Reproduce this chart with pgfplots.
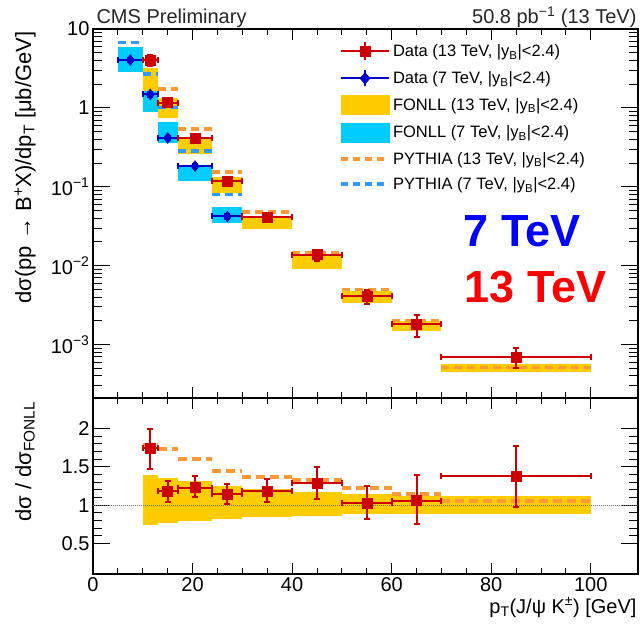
\documentclass[border=0pt]{standalone}
\usepackage{fontspec}
\setmainfont{Liberation Sans}
\usepackage{pgfplots}
\usepackage{pgfplotstable}
\pgfplotsset{compat=1.18}

\definecolor{datared}{RGB}{204,0,0}
\definecolor{datablue}{RGB}{0,0,204}
\definecolor{fonllyel}{RGB}{255,204,0}
\definecolor{fonllcyan}{RGB}{0,204,255}
\definecolor{pyorange}{RGB}{255,153,51}
\definecolor{pyblue}{RGB}{51,153,255}

% ---- top panel: cross sections ----
\pgfplotstableread{
x xe y ye
11.5 1.5 4.04 0.60
15 2 1.17 0.13
20.5 3.5 0.416 0.046
27 3 0.118 0.014
35 5 0.0412 0.0053
45 5 0.0138 0.0022
55 5 0.00408 0.00084
65 5 0.00182 0.00056
85 15 0.00070 0.00020
}\dataThirteen

\pgfplotstableread{
x xe y ye
7.5 2.5 4.04 0.25
11.5 1.5 1.48 0.09
15 2 0.416 0.025
20.5 3.5 0.183 0.011
27 3 0.042 0.003
}\dataSeven

\pgfplotstableread{
x0 x1 lo hi
10 13 1.64 3.22
13 17 0.755 1.34
17 24 0.258 0.428
24 30 0.083 0.133
30 40 0.029 0.0421
40 50 0.0091 0.0138
50 60 0.0034 0.00483
60 70 0.0015 0.0020
70 100 0.000443 0.000565
}\fonllThirteen

\pgfplotstableread{
x0 x1 lo hi
5 10 2.87 5.96
10 13 0.89 1.64
13 17 0.359 0.664
17 24 0.117 0.191
24 30 0.0346 0.0552
}\fonllSeven

\pgfplotstableread{
x y
10 4.13
13 1.73
17 0.536
24 0.154
30 0.0478
40 0.0144
50 0.00502
60 0.00201
70 0.00051
100 0.00051
}\pythiaThirteen

\pgfplotstableread{
x y
5 6.78
10 2.68
13 1.01
17 0.282
24 0.080
30 0.080
}\pythiaSeven

% ---- bottom panel: ratios to FONLL ----
\pgfplotstableread{
x xe y yp ym
11.5 1.5 1.746 0.254 0.276
15 2 1.18 0.13 0.14
20.5 3.5 1.23 0.15 0.13
27 3 1.145 0.135 0.135
35 5 1.18 0.16 0.14
45 5 1.285 0.215 0.205
55 5 1.03 0.22 0.205
65 5 1.06 0.34 0.31
85 15 1.38 0.39 0.40
}\ratioData

\pgfplotstableread{
x0 x1 lo hi
10 13 0.74 1.39
13 17 0.76 1.355
17 24 0.79 1.31
24 30 0.82 1.25
30 40 0.84 1.21
40 50 0.86 1.175
50 60 0.88 1.145
60 70 0.88 1.12
70 100 0.88 1.115
}\ratioFonll

\pgfplotstableread{
x y
10 1.79
13 1.74
17 1.605
24 1.45
30 1.37
40 1.33
50 1.23
60 1.145
70 1.06
100 1.06
}\ratioPythia

% one filled box per bin, from a table with columns x0 x1 lo hi
\newcommand\drawboxes[2]{%
  \pgfplotstablegetrowsof{#1}%
  \pgfmathtruncatemacro\nlast{\pgfplotsretval-1}%
  \pgfplotsforeachungrouped \i in {0,...,\nlast}{%
    \pgfplotstablegetelem{\i}{x0}\of{#1}\let\xa\pgfplotsretval
    \pgfplotstablegetelem{\i}{x1}\of{#1}\let\xb\pgfplotsretval
    \pgfplotstablegetelem{\i}{lo}\of{#1}\let\ylo\pgfplotsretval
    \pgfplotstablegetelem{\i}{hi}\of{#1}\let\yhi\pgfplotsretval
    \edef\temp{\noexpand\addplot[fill=#2, draw=none, forget plot] coordinates {(\xa,\ylo) (\xb,\ylo) (\xb,\yhi) (\xa,\yhi)};}%
    \temp
  }%
}

\pgfplotsset{
  cmsaxis/.style={
    scale only axis, width=545pt,
    xmin=0, xmax=109.5,
    xtick={0,20,...,100}, minor x tick num=3,
    tick align=inside,
    axis line style={line width=1.6pt},
    every tick/.style={black, line width=0.9pt},
    x tick style={/pgfplots/major tick length=11pt, /pgfplots/minor tick length=6pt},
    y tick style={/pgfplots/major tick length=17pt, /pgfplots/minor tick length=9pt},
    tick label style={font=\fontsize{20}{24}\selectfont},
    /pgf/number format/assume math mode=true,
  },
  dataplot/.style={
    only marks, forget plot,
    error bars/x dir=both, error bars/x explicit,
    error bars/y dir=both, error bars/y explicit,
    error bars/error bar style={line width=2pt, #1},
    error bars/error mark options={rotate=90, line width=2pt, mark size=3pt, #1},
  },
}

\begin{document}
\begin{tikzpicture}

% ================= TOP PANEL =================
\begin{axis}[cmsaxis,
  at={(93pt,236pt)}, anchor=south west,
  height=369pt,
  ymode=log, ymin=2.1e-4, ymax=10,
  xticklabels={},
  ytick={0.001,0.01,0.1,1,10},
  yticklabels={10\textsuperscript{−3},10\textsuperscript{−2},10\textsuperscript{−1},1,10},
  minor ytick={3e-4,4e-4,5e-4,6e-4,7e-4,8e-4,9e-4,
    2e-3,3e-3,4e-3,5e-3,6e-3,7e-3,8e-3,9e-3,
    0.02,0.03,0.04,0.05,0.06,0.07,0.08,0.09,
    0.2,0.3,0.4,0.5,0.6,0.7,0.8,0.9,
    2,3,4,5,6,7,8,9},
  legend style={at={(0.451,0.967)}, anchor=north west, draw=none, fill=none,
    inner sep=0pt, row sep=8pt,
    font=\fontsize{16.5}{19}\selectfont},
  legend cell align=left,
]
% FONLL bands
\drawboxes{\fonllThirteen}{fonllyel}
\drawboxes{\fonllSeven}{fonllcyan}
% PYTHIA
\addplot[jump mark left, pyorange, line width=3.5pt, dash pattern=on 8pt off 5pt, forget plot] table[x=x,y=y]{\pythiaThirteen};
\addplot[jump mark left, pyblue, line width=3.5pt, dash pattern=on 8pt off 5pt, forget plot] table[x=x,y=y]{\pythiaSeven};
% Data
\addplot[datablue, mark=diamond*, mark size=5.5pt, dataplot=datablue]
  table[x=x, y=y, x error=xe, y error=ye]{\dataSeven};
\addplot[datared, mark=square*, mark size=5pt, dataplot=datared]
  table[x=x, y=y, x error=xe, y error=ye]{\dataThirteen};

% legend
\addlegendimage{legend image code/.code={
  \draw[datared, line width=2pt] (0pt,0pt) -- (48pt,0pt);
  \draw[datared, line width=2pt] (24pt,-9pt) -- (24pt,9pt);
  \fill[datared] (19pt,-5pt) rectangle (29pt,5pt);}}
\addlegendentry{Data (13 TeV, |y\textsubscript{B}|<2.4)}
\addlegendimage{legend image code/.code={
  \draw[datablue, line width=2pt] (0pt,0pt) -- (48pt,0pt);
  \draw[datablue, line width=2pt] (24pt,-8pt) -- (24pt,8pt);
  \fill[datablue] (24pt,-6pt) -- (29pt,0pt) -- (24pt,6pt) -- (19pt,0pt) -- cycle;}}
\addlegendentry{Data (7 TeV, |y\textsubscript{B}|<2.4)}
\addlegendimage{legend image code/.code={
  \fill[fonllyel] (0pt,-9.5pt) rectangle (48pt,9.5pt);}}
\addlegendentry{FONLL (13 TeV, |y\textsubscript{B}|<2.4)}
\addlegendimage{legend image code/.code={
  \fill[fonllcyan] (0pt,-9.5pt) rectangle (48pt,9.5pt);}}
\addlegendentry{FONLL (7 TeV, |y\textsubscript{B}|<2.4)}
\addlegendimage{legend image code/.code={
  \draw[pyorange, line width=4pt, dash pattern=on 7pt off 5pt] (0pt,0pt) -- (48pt,0pt);}}
\addlegendentry{PYTHIA (13 TeV, |y\textsubscript{B}|<2.4)}
\addlegendimage{legend image code/.code={
  \draw[pyblue, line width=4pt, dash pattern=on 7pt off 5pt] (0pt,0pt) -- (48pt,0pt);}}
\addlegendentry{PYTHIA (7 TeV, |y\textsubscript{B}|<2.4)}
\end{axis}

% ================= BOTTOM PANEL =================
\begin{axis}[cmsaxis,
  at={(93pt,60pt)}, anchor=south west,
  height=176pt,
  ymin=0.1, ymax=2.4,
  ytick={0.5,1,1.5,2}, minor y tick num=4,
]
\drawboxes{\ratioFonll}{fonllyel}
\addplot[black!55, densely dotted, line width=1pt, forget plot] coordinates {(0,1) (109.5,1)};
\addplot[jump mark left, pyorange, line width=4pt, dash pattern=on 9pt off 5pt, forget plot] table[x=x,y=y]{\ratioPythia};
\addplot[datared, mark=square*, mark size=5pt, dataplot=datared]
  table[x=x, y=y, x error=xe, y error plus=yp, y error minus=ym]{\ratioData};
\end{axis}

% ================= TEXT =================
\node[anchor=base west, text=black!85, font=\fontsize{20}{24}\selectfont] at (93pt,610pt) {CMS Preliminary};
\node[anchor=base east, text=black!85, font=\fontsize{20}{24}\selectfont] at (640pt,610pt) {50.8 pb\textsuperscript{−1} (13 TeV)};
\node[rotate=90, anchor=base east, font=\fontsize{22}{26}\selectfont] at (31pt,606pt) {dσ(pp → B\textsuperscript{+}X)/dp\textsubscript{T} [μb/GeV]};
\node[rotate=90, anchor=base east, font=\fontsize{22}{26}\selectfont] at (31pt,236pt) {dσ / dσ\textsubscript{FONLL}};
\node[anchor=base east, font=\fontsize{20}{24}\selectfont] at (640pt,21pt) {p\textsubscript{T}(J/ψ K\textsuperscript{±}) [GeV]};
\node[anchor=base west, text=blue, font=\fontsize{45}{50}\selectfont\bfseries] at (460pt,387pt) {7 TeV};
\node[anchor=base west, text=red, font=\fontsize{45}{50}\selectfont\bfseries] at (461pt,331pt) {13 TeV};

\pgfresetboundingbox
\useasboundingbox (0pt,0pt) rectangle (644pt,634pt);
\end{tikzpicture}
\end{document}
